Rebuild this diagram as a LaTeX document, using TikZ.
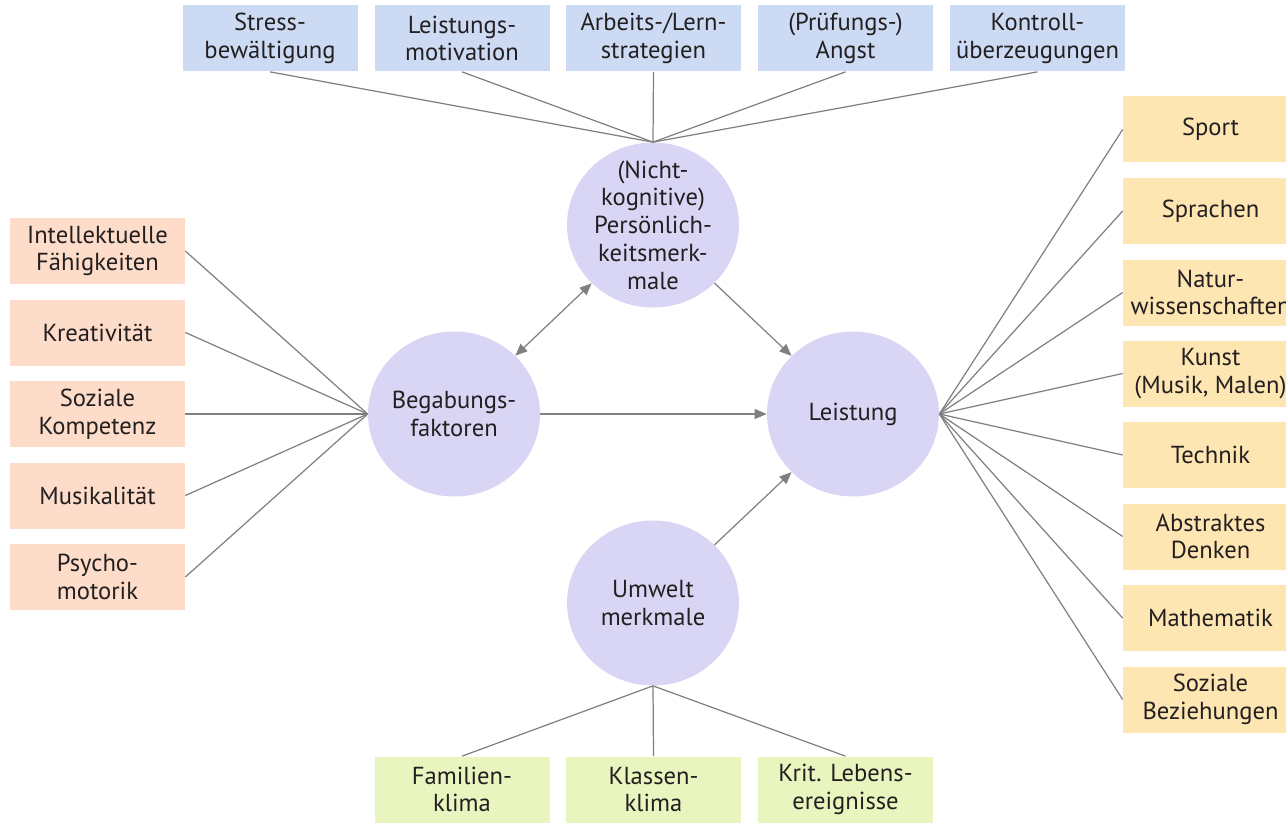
\documentclass[tikz,border=0pt]{standalone}
\usepackage{fontspec}
\setmainfont{PT Sans}
\usetikzlibrary{shapes.geometric,arrows.meta}
\definecolor{bluebox}{HTML}{CCDBF3}
\definecolor{peachbox}{HTML}{FDDCC9}
\definecolor{sandbox}{HTML}{FEE6B3}
\definecolor{limebox}{HTML}{E9F5BF}
\definecolor{lilac}{HTML}{D9D5F4}
\definecolor{wire}{HTML}{808080}
\definecolor{ink}{HTML}{231F20}
\tikzstyle{every picture} = [font=\fontsize{14}{15.8}\selectfont,text=ink]
\tikzstyle{fieldbox} = [rectangle,minimum width=3.5cm,minimum height=1.32cm,inner sep=0pt,align=center]
\tikzstyle{factor} = [ellipse,fill=lilac,minimum width=3.44cm,minimum height=3.3cm,inner sep=0pt]
\tikzstyle{link} = [draw=wire,line width=0.7pt]
\tikzstyle{arr} = [link,-{Triangle[length=2.4mm,width=2mm]}]
\tikzstyle{both} = [link,{Triangle[length=2.4mm,width=2mm]}-{Triangle[length=2.4mm,width=2mm]}]

\begin{document}
\begin{tikzpicture}
            \useasboundingbox (0,0) rectangle (25.72,16.44);

            % the four factors
            \node (pers) at(13.06,11.94) [factor,label={[align=center]center:(Nicht-\\kognitive)\\Persönlich-\\keitsmerk-\\male}] {};
            \node (beg) at(9.08,8.16) [factor,label={[align=center]center:Begabungs-\\faktoren}] {};
            \node (leis) at(17.06,8.16) [factor,label={center:Leistung}] {};
            \node (umw) at(13.06,4.38) [factor,label={[align=center]center:Umwelt\\merkmale}] {};

            % personality
            \node (top 1) at(5.40,15.67) [fieldbox,fill=bluebox] {Stress-\\bewältigung};
            \node (top 2) at(9.24,15.67) [fieldbox,fill=bluebox] {Leistungs-\\motivation};
            \node (top 3) at(13.07,15.67) [fieldbox,fill=bluebox] {Arbeits-/Lern-\\strategien};
            \node (top 4) at(16.91,15.67) [fieldbox,fill=bluebox] {(Prüfungs-)\\Angst};
            \node (top 5) at(20.75,15.67) [fieldbox,fill=bluebox] {Kontroll-\\überzeugungen};

            % talent
            \node (left 1) at(1.95,11.42) [fieldbox,fill=peachbox] {Intellektuelle\\Fähigkeiten};
            \node (left 2) at(1.95,9.79) [fieldbox,fill=peachbox] {Kreativität};
            \node (left 3) at(1.95,8.16) [fieldbox,fill=peachbox] {Soziale\\Kompetenz};
            \node (left 4) at(1.95,6.53) [fieldbox,fill=peachbox] {Musikalität};
            \node (left 5) at(1.95,4.90) [fieldbox,fill=peachbox] {Psycho-\\motorik};

            % performance
            \node (right 1) at(24.21,13.85) [fieldbox,fill=sandbox] {Sport};
            \node (right 2) at(24.21,12.22) [fieldbox,fill=sandbox] {Sprachen};
            \node (right 3) at(24.21,10.59) [fieldbox,fill=sandbox] {Natur-\\wissenschaften};
            \node (right 4) at(24.21,8.97) [fieldbox,fill=sandbox] {Kunst\\(Musik, Malen)};
            \node (right 5) at(24.21,7.34) [fieldbox,fill=sandbox] {Technik};
            \node (right 6) at(24.21,5.71) [fieldbox,fill=sandbox] {Abstraktes\\Denken};
            \node (right 7) at(24.21,4.08) [fieldbox,fill=sandbox] {Mathematik};
            \node (right 8) at(24.21,2.45) [fieldbox,fill=sandbox] {Soziale\\Beziehungen};

            % environment
            \node (bot 1) at(9.24,0.65) [fieldbox,fill=limebox] {Familien-\\klima};
            \node (bot 2) at(13.07,0.65) [fieldbox,fill=limebox] {Klassen-\\klima};
            \node (bot 3) at(16.91,0.65) [fieldbox,fill=limebox] {Krit. Lebens-\\ereignisse};


            \path 	(top 1.south) edge[link] (pers.north)
            		(top 2.south) edge[link] (pers.north)
            		(top 3.south) edge[link] (pers.north)
            		(top 4.south) edge[link] (pers.north)
            		(top 5.south) edge[link] (pers.north)
            		(left 1.east) edge[link] (beg.west)
            		(left 2.east) edge[link] (beg.west)
            		(left 3.east) edge[link] (beg.west)
            		(left 4.east) edge[link] (beg.west)
            		(left 5.east) edge[link] (beg.west)
            		(right 1.west) edge[link] (leis.east)
            		(right 2.west) edge[link] (leis.east)
            		(right 3.west) edge[link] (leis.east)
            		(right 4.west) edge[link] (leis.east)
            		(right 5.west) edge[link] (leis.east)
            		(right 6.west) edge[link] (leis.east)
            		(right 7.west) edge[link] (leis.east)
            		(right 8.west) edge[link] (leis.east)
            		(bot 1.north) edge[link] (umw.south)
            		(bot 2.north) edge[link] (umw.south)
            		(bot 3.north) edge[link] (umw.south)
            		(beg) edge[both] (pers)
            		(pers) edge[arr] (leis)
            		(beg) edge[arr] (leis)
            		(umw) edge[arr] (leis);

        \end{tikzpicture}
\end{document}
